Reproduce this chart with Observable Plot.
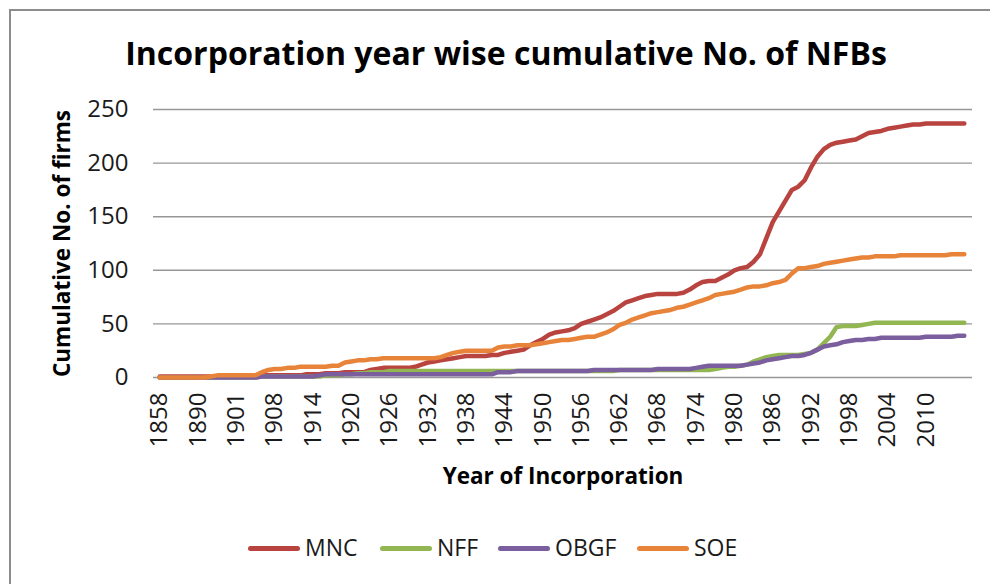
<!DOCTYPE html>
<html><head><meta charset="utf-8">
<script src="https://cdn.jsdelivr.net/npm/d3@7"></script>
<script src="https://cdn.jsdelivr.net/npm/@observablehq/plot@0.6"></script>
<style>
body{margin:0;background:#fff;font-family:"Open Sans",sans-serif;overflow:hidden;}
#frame{position:absolute;left:9px;top:9px;width:1200px;height:800px;border:2px solid #8c8c8c;}
#wrap{position:absolute;left:0;top:0;width:990px;}
#title{height:90px;box-sizing:border-box;padding-top:34px;padding-left:22px;text-align:center;font-weight:700;font-size:32px;line-height:38px;color:#000;white-space:nowrap;}
#chart svg{display:block;}
#legend{position:relative;height:84px;}
.item{position:absolute;top:32px;height:30px;line-height:30px;font-size:23px;color:#1a1a1a;white-space:nowrap;}
.sw{display:inline-block;width:52px;height:5px;border-radius:3px;vertical-align:middle;margin-right:5px;position:relative;top:-1px;}
</style>
</head><body>
<div id="frame"></div>
<div id="wrap">
<div id="title">Incorporation year wise cumulative No. of NFBs</div>
<div id="chart"></div>
<div id="legend"></div>
</div>
<script>
const years = [1858,1863,1870,1875,1880,1886,1890,1892,1894,1895,1897,1899,1901,1902,1903,1904,1905,1906,1908,1909,1910,1911,1912,1913,
1914,1915,1916,1917,1918,1919,1920,1921,1922,1923,
1924,1925,1926,1927,1928,1929,1930,1931,1932,1933,
1934,1935,1936,1937,1938,1939,1940,1941,1942,1943,
1944,1945,1946,1947,1948,1949,1950,1951,1952,1953,
1954,1955,1956,1957,1958,1959,1960,1961,1962,1963,
1964,1965,1966,1967,1968,1969,1970,1971,1972,1973,
1974,1975,1976,1977,1978,1979,1980,1981,1982,1983,
1984,1985,1986,1987,1988,1989,1990,1991,1992,1993,
1994,1995,1996,1997,1998,1999,2000,2001,2002,2003,
2004,2005,2006,2007,2008,2009,2010,2011,2012,2013,
2014,2015,2016];

const tickYears = [1858,1890,1901,1908,1914,1920,1926,1932,1938,1944,1950,1956,1962,1968,1974,1980,1986,1992,1998,2004,2010];
const yTicks = [0,50,100,150,200,250];

const mnc = [1,1,1,1,1,1,1,1,1,1,1,1,1,1,1,1,2,2,2,2,2,2,2,3,
3,3,4,4,4,5,5,5,5,7,
8,9,9,9,9,9,10,12,14,15,
16,17,18,19,20,20,20,20,21,21,
23,24,25,26,30,33,36,40,42,43,
44,46,50,52,54,56,59,62,66,70,
72,74,76,77,78,78,78,78,79,82,
86,89,90,90,93,96,100,102,103,108,
115,130,145,155,165,175,178,184,196,206,
213,217,219,220,221,222,225,228,229,230,
232,233,234,235,236,236,237,237,237,237,
237,237,237];

const nff = [0,0,0,0,0,0,0,0,0,0,0,0,0,0,0,0,1,1,1,1,1,1,1,1,
1,1,2,2,2,3,3,4,4,5,
5,5,6,6,6,6,6,6,6,6,
6,6,6,6,6,6,6,6,6,6,
6,6,6,6,6,6,6,6,6,6,
6,6,6,6,6,6,6,6,7,7,
7,7,7,7,7,7,7,7,7,7,
7,7,7,8,9,10,10,11,12,15,
17,19,20,21,21,21,21,22,23,26,
32,38,47,48,48,48,49,50,51,51,
51,51,51,51,51,51,51,51,51,51,
51,51,51];

const obgf = [0,0,0,0,0,0,0,0,0,0,0,0,0,0,0,0,1,1,1,1,1,1,1,1,
1,2,3,3,3,3,3,3,3,3,
3,3,3,3,3,3,3,3,3,3,
3,3,3,3,3,3,3,3,3,5,
5,5,6,6,6,6,6,6,6,6,
6,6,6,6,7,7,7,7,7,7,
7,7,7,7,8,8,8,8,8,8,
9,10,11,11,11,11,11,11,12,13,
14,16,17,18,19,20,20,21,23,26,
29,30,31,33,34,35,35,36,36,37,
37,37,37,37,37,37,38,38,38,38,
38,39,39];

const soe = [0,0,0,0,0,0,0,0,1,2,2,2,2,2,2,2,5,7,8,8,9,9,10,10,
10,10,10,11,11,14,15,16,16,17,
17,18,18,18,18,18,18,18,18,18,
19,21,23,24,25,25,25,25,25,28,
29,29,30,30,30,31,32,33,34,35,
35,36,37,38,38,40,42,45,49,51,
54,56,58,60,61,62,63,65,66,68,
70,72,74,77,78,79,80,82,84,85,
85,86,88,89,91,97,102,102,103,104,
106,107,108,109,110,111,112,112,113,113,
113,113,114,114,114,114,114,114,114,114,
115,115,115];

const seriesNames = ["MNC","NFF","OBGF","SOE"];
const seriesColors = ["#B8433F","#92B652","#7A5E9E","#E8843A"];
const seriesValues = [mnc, nff, obgf, soe];

const table = [];
seriesNames.forEach((name, s) => {
  years.forEach((yr, i) => table.push({series: name, year: yr, value: seriesValues[s][i]}));
});

const chart = Plot.plot({
  width: 990,
  height: 410,
  marginLeft: 153,
  marginRight: 18,
  marginTop: 19,
  marginBottom: 123,
  style: {fontFamily: "'Open Sans', sans-serif", fontSize: "24px", color: "#1a1a1a", background: "transparent", overflow: "visible"},
  x: {type: "point", domain: years, range: [156, 967]},
  y: {domain: [0, 250]},
  color: {domain: seriesNames, range: seriesColors},
  marks: [
    Plot.gridY(yTicks, {stroke: "#979797", strokeOpacity: 1, strokeWidth: 1.4}),
    Plot.axisY(yTicks, {tickSize: 0, tickPadding: 25, label: null, fontSize: 24}),
    Plot.axisX(tickYears, {tickSize: 0, tickPadding: 15, tickRotate: -90, label: null, fontSize: 24, tickFormat: d => String(d)}),
    Plot.line(table, {x: "year", y: "value", z: "series", stroke: "series", strokeWidth: 4.5, strokeLinejoin: "round", strokeLinecap: "round"}),
    Plot.text(["Year of Incorporation"], {text: d => d, frameAnchor: "bottom", lineAnchor: "middle", dy: 99, fontWeight: 700, fontSize: 22.5, fill: "#000"}),
    Plot.text(["Cumulative No. of firms"], {text: d => d, frameAnchor: "left", textAnchor: "middle", lineAnchor: "middle", dx: -91, rotate: -90, fontWeight: 700, fontSize: 22.5, fill: "#000"})
  ]
});
document.getElementById("chart").appendChild(chart);

const legendLeft = [248, 380, 498, 637];
const legend = document.getElementById("legend");
seriesNames.forEach((name, i) => {
  const it = document.createElement("div");
  it.className = "item";
  it.style.left = legendLeft[i] + "px";
  const sw = document.createElement("span");
  sw.className = "sw";
  sw.style.background = seriesColors[i];
  it.appendChild(sw);
  it.appendChild(document.createTextNode(name));
  legend.appendChild(it);
});
</script>
</body></html>
